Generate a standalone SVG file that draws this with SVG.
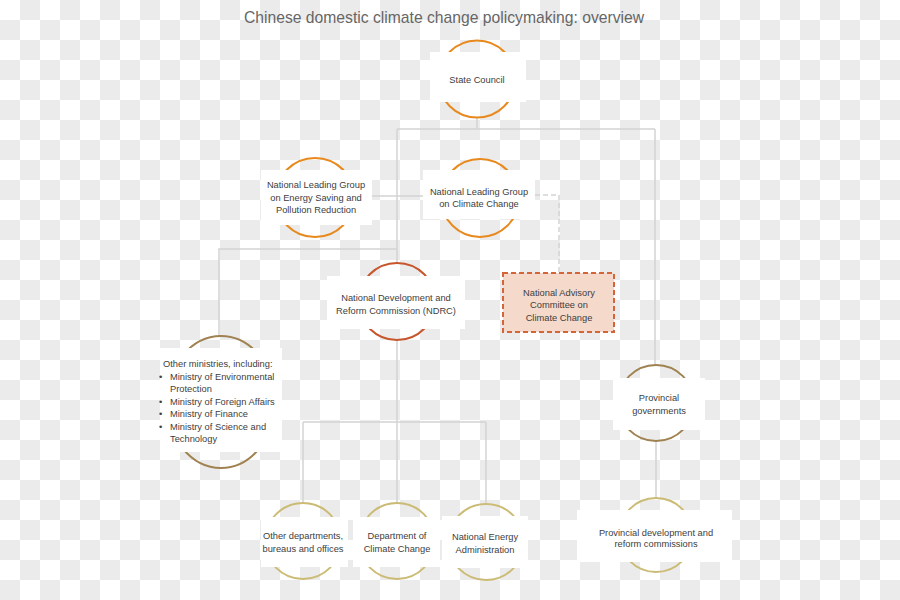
<svg xmlns="http://www.w3.org/2000/svg" width="900" height="600" viewBox="0 0 900 600">
<defs>
<pattern id="chk" width="40" height="40" patternUnits="userSpaceOnUse">
<rect width="40" height="40" fill="#ffffff"/>
<rect x="20" y="0" width="20" height="20" fill="#ebebeb"/>
<rect x="0" y="20" width="20" height="20" fill="#ebebeb"/>
</pattern>
</defs>
<style>
.t{font-family:"Liberation Sans",Arial,sans-serif;font-size:9.3px;fill:#404040;text-anchor:middle}
.l{text-anchor:start}
.box{fill:#ffffff;stroke:none}
.ring{fill:none;stroke-width:2}
.or{stroke:#e8891e}
.rd{stroke:#c8562c}
.br{stroke:#a08250}
.kh{stroke:#cbbb74}
.con{fill:none;stroke:#d4d4d4;stroke-width:1.5}
.dash{fill:none;stroke:#d4d4d4;stroke-width:1.5;stroke-dasharray:5 3}
</style>
<rect width="900" height="600" fill="url(#chk)"/>
<text x="444" y="23" font-family="Liberation Sans,Arial,sans-serif" font-size="15.7" fill="#666666" text-anchor="middle">Chinese domestic climate change policymaking: overview</text>
<g id="connectors">
<path class="con" d="M477 117V129M397 129H655M397 129V263M655 129V365M372 196H423M397 249H219V336M397 340V422M303 422H486M303 422V503M397 422V503M486 422V503M656 441V498"/>
<path class="dash" d="M535 195H559V273"/>
</g>
<g id="state-council">
<circle class="ring or" cx="477" cy="79" r="38.5"/>
<rect class="box" x="430" y="52" width="96" height="50"/>
<text class="t" x="477" y="83">State Council</text>
</g>
<g id="nlg-energy">
<circle class="ring or" cx="315" cy="197.5" r="39.5"/>
<rect class="box" x="261" y="170" width="111" height="55"/>
<text class="t" x="316" y="187.5">National Leading Group</text>
<text class="t" x="316" y="200.5">on Energy Saving and</text>
<text class="t" x="316" y="213">Pollution Reduction</text>
</g>
<g id="nlg-climate">
<circle class="ring or" cx="480" cy="198" r="39"/>
<rect class="box" x="423" y="170" width="112" height="49"/>
<text class="t" x="479" y="194.5">National Leading Group</text>
<text class="t" x="479" y="206.5">on Climate Change</text>
</g>
<g id="ndrc">
<circle class="ring rd" cx="397" cy="301.5" r="38.5"/>
<rect class="box" x="327" y="276" width="138" height="53"/>
<text class="t" x="396" y="300.5">National Development and</text>
<text class="t" x="396" y="313.5">Reform Commission (NDRC)</text>
</g>
<g id="advisory">
<rect x="503" y="273" width="111" height="59" fill="#f5d9cb" stroke="#d4643a" stroke-width="2" stroke-dasharray="5 3"/>
<text class="t" x="559" y="295.5">National Advisory</text>
<text class="t" x="559" y="307.5">Committee on</text>
<text class="t" x="559" y="320.5">Climate Change</text>
</g>
<g id="other-ministries">
<ellipse class="ring br" cx="221" cy="402" rx="54" ry="66"/>
<rect class="box" x="160" y="348" width="122" height="104"/>
<text class="t l" x="163" y="366.5">Other ministries, including:</text>
<text class="t l" x="159" y="379.5">•</text>
<text class="t l" x="170" y="379.5">Ministry of Environmental</text>
<text class="t l" x="170" y="391.5">Protection</text>
<text class="t l" x="159" y="404.5">•</text>
<text class="t l" x="170" y="404.5">Ministry of Foreign Affairs</text>
<text class="t l" x="159" y="416.5">•</text>
<text class="t l" x="170" y="416.5">Ministry of Finance</text>
<text class="t l" x="159" y="429.5">•</text>
<text class="t l" x="170" y="429.5">Ministry of Science and</text>
<text class="t l" x="170" y="442">Technology</text>
</g>
<g id="provincial-governments">
<circle class="ring br" cx="656" cy="403" r="38"/>
<rect class="box" x="613" y="378" width="92" height="52"/>
<text class="t" x="659" y="400.5">Provincial</text>
<text class="t" x="659" y="413.5">governments</text>
</g>
<g id="provincial-commissions">
<circle class="ring kh" cx="656" cy="535" r="37"/>
<rect class="box" x="577" y="510" width="155" height="52"/>
<text class="t" x="656" y="535.5">Provincial development and</text>
<text class="t" x="656" y="546.5">reform commissions</text>
</g>
<g id="other-departments">
<circle class="ring kh" cx="303" cy="541" r="38"/>
<rect class="box" x="261" y="517" width="87" height="50"/>
<text class="t" x="303" y="539">Other departments,</text>
<text class="t" x="303" y="551.5">bureaus and offices</text>
</g>
<g id="dept-climate-change">
<circle class="ring kh" cx="397" cy="541" r="38"/>
<rect class="box" x="353" y="517" width="87" height="50"/>
<text class="t" x="397" y="539">Department of</text>
<text class="t" x="397" y="551.5">Climate Change</text>
</g>
<g id="nea">
<circle class="ring kh" cx="486" cy="542" r="38"/>
<rect class="box" x="442" y="516" width="86" height="52"/>
<text class="t" x="485" y="540">National Energy</text>
<text class="t" x="485" y="552.5">Administration</text>
</g>
</svg>
